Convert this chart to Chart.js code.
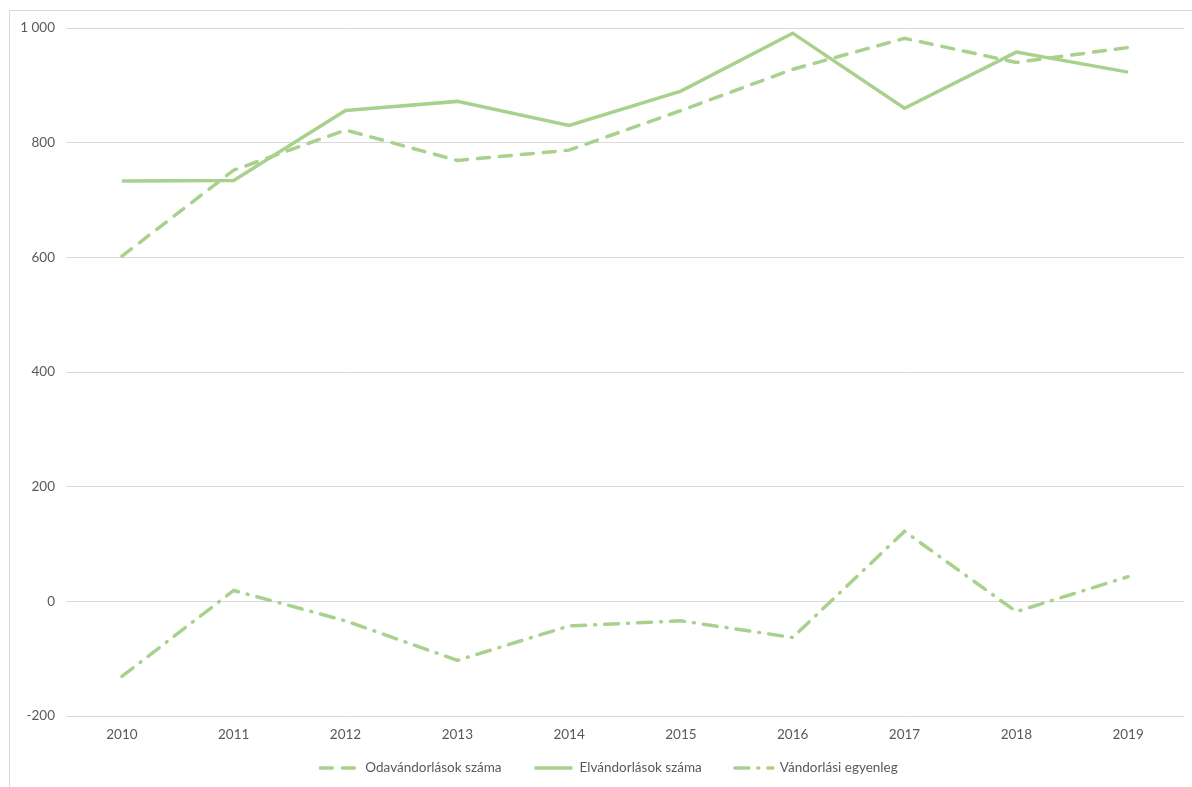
<!DOCTYPE html>
<html>
<head>
<meta charset="utf-8">
<script src="https://cdn.jsdelivr.net/npm/chart.js@4"></script>
<style>
    html, body { margin: 0; padding: 0; background: #fff; overflow: hidden; }
    #frame {
        position: absolute; left: 9px; top: 10px; width: 1300px; height: 900px;
        border: 1px solid #d9d9d9; box-sizing: border-box;
    }
    #chart { position: absolute; left: 0; top: 0; }
</style>
</head>
<body>
<div id="frame"></div>
<canvas id="chart" width="1192" height="787"></canvas>
<script>
// Évek (kategóriák)
const years = ['2010', '2011', '2012', '2013', '2014', '2015', '2016', '2017', '2018', '2019'];

// Sorozatok
const odavandorlasok = [602, 752, 822, 769, 787, 856, 928, 982, 940, 966];
const elvandorlasok = [733, 734, 856, 872, 830, 890, 991, 860, 958, 923];
const egyenleg = [-131, 19, -34, -103, -43, -34, -63, 122, -18, 43];

const seriesNames = ['Odavándorlások száma', 'Elvándorlások száma', 'Vándorlási egyenleg'];

const green = '#a9d18e';
const textColor = '#595959';
const fontFamily = 'Lato, "Open Sans", sans-serif';
const fontSize = 13.5;

// Vonaltípusok: szaggatott, folytonos, pont-vonal
const dashes = [[12, 10], [], [14, 9, 1, 9]];

const makeDataset = (label, data, dash) => ({
    label,
    data,
    borderColor: green,
    backgroundColor: green,
    borderWidth: 3.5,
    borderDash: dash,
    borderCapStyle: dash.length ? 'round' : 'butt',
    borderJoinStyle: 'miter',
    pointRadius: 0,
    pointHoverRadius: 0,
    tension: 0,
    fill: false
});

// Jelmagyarázat alul, a vonalstílusokkal együtt
const bottomLegend = {
    id: 'bottomLegend',
    afterDraw(chart) {
        const { ctx } = chart;
        const sampleW = 42, textGap = 5, itemGap = 31;
        const centerX = 608, y = 768;
        ctx.save();
        ctx.font = `${fontSize}px ${fontFamily}`;
        const items = chart.data.datasets.map(ds => ({ ds, w: ctx.measureText(ds.label).width }));
        const total = items.reduce((s, it) => s + sampleW + textGap + it.w, 0) + itemGap * (items.length - 1);
        let x = centerX - total / 2;
        items.forEach(({ ds, w }) => {
            ctx.beginPath();
            ctx.strokeStyle = ds.borderColor;
            ctx.lineWidth = ds.borderWidth;
            ctx.lineCap = ds.borderCapStyle;
            ctx.setLineDash(ds.borderDash);
            ctx.moveTo(x + 2, y);
            ctx.lineTo(x + sampleW - 2, y);
            ctx.stroke();
            ctx.setLineDash([]);
            ctx.fillStyle = textColor;
            ctx.textBaseline = 'middle';
            ctx.textAlign = 'left';
            ctx.fillText(ds.label, x + sampleW + textGap, y);
            x += sampleW + textGap + w + itemGap;
        });
        ctx.restore();
    }
};

const ctx = document.getElementById('chart').getContext('2d');
new Chart(ctx, {
    type: 'line',
    data: {
        labels: years,
        datasets: [
            makeDataset(seriesNames[0], odavandorlasok, dashes[0]),
            makeDataset(seriesNames[1], elvandorlasok, dashes[1]),
            makeDataset(seriesNames[2], egyenleg, dashes[2])
        ]
    },
    options: {
        responsive: false,
        animation: false,
        layout: { padding: { left: 0, top: 28, right: 8, bottom: 43 } },
        plugins: {
            tooltip: { enabled: false },
            legend: { display: false }
        },
        scales: {
            x: {
                offset: true,
                grid: { display: false, drawTicks: false },
                border: { display: false },
                ticks: {
                    color: textColor,
                    padding: 11,
                    maxRotation: 0,
                    font: { family: fontFamily, size: fontSize }
                },
                afterFit: (scale) => { scale.height = 28; }
            },
            y: {
                min: -200,
                max: 1000,
                grid: { color: '#d9d9d9', lineWidth: 1, drawTicks: false },
                border: { display: false },
                ticks: {
                    stepSize: 200,
                    color: textColor,
                    padding: 11,
                    font: { family: fontFamily, size: fontSize },
                    callback: (v) => String(v).replace(/\B(?=(\d{3})+(?!\d))/g, ' ')
                },
                afterFit: (scale) => { scale.width = 66; }
            }
        }
    },
    plugins: [bottomLegend]
});
</script>
</body>
</html>
